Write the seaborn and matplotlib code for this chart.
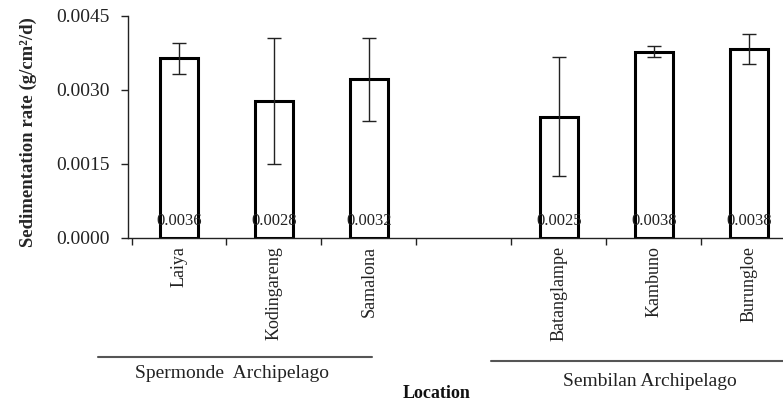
import numpy as np
import pandas as pd
import matplotlib
matplotlib.use("Agg")
import matplotlib.pyplot as plt
from matplotlib.lines import Line2D
import seaborn as sns

# ---- data ----
locations = ["Laiya", "Kodingareng", "Samalona", "Batanglampe", "Kambuno", "Burungloe"]
order = ["Laiya", "Kodingareng", "Samalona", " ", "Batanglampe", "Kambuno", "Burungloe"]
rates = [0.00364, 0.00278, 0.00322, 0.00246, 0.00378, 0.00383]
sd = [0.00031, 0.00128, 0.00084, 0.00121, 0.00012, 0.00030]
value_labels = ["0.0036", "0.0028", "0.0032", "0.0025", "0.0038", "0.0038"]
groups = ["Spermonde  Archipelago", "Sembilan Archipelago"]
yticks = [0.0, 0.0015, 0.0030, 0.0045]

df = pd.DataFrame({"Location": locations, "rate": rates, "sd": sd, "lab": value_labels})

sns.set_style("white")
plt.rcParams["font.family"] = ["Liberation Serif", "DejaVu Serif"]

W, H = 783, 403
fig = plt.figure(figsize=(W / 100, H / 100), dpi=100)
ax = fig.add_axes([128 / W, 1 - 238 / H, (783 - 128) / W, (238 - 16) / H])

sns.barplot(data=df, x="Location", y="rate", order=order, errorbar=None,
            color="white", edgecolor="black", linewidth=2.2, width=0.4, ax=ax)

pos = [order.index(l) for l in locations]
ax.errorbar(pos, df["rate"], yerr=df["sd"], fmt="none", ecolor="#222222",
            elinewidth=1.0, capsize=5, capthick=1.0, zorder=5)

for p, lab in zip(pos, df["lab"]):
    ax.annotate(lab, xy=(p, 0), xytext=(0, 12.5), textcoords="offset points",
                ha="center", va="center", fontsize=12, color="#222222")

ax.set_ylim(0, 0.0045)
ax.set_yticks(yticks)
ax.set_yticklabels([f"{v:.4f}" for v in yticks], fontsize=14, color="#222222")
ax.set_xlim(-0.537, 6.36)

ax.set_xticks(range(len(order)))
ax.set_xticklabels(order, rotation=90, fontsize=13, color="#222222")
ax.tick_params(axis="x", which="major", length=0, pad=6)
ax.set_xticks(np.arange(-0.5, len(order) - 0.5, 1.0), minor=True)
ax.tick_params(axis="x", which="minor", length=5, width=1, color="#222222", direction="out", bottom=True)
ax.tick_params(axis="y", length=5, width=1, color="#222222", direction="out", left=True, pad=8)

for s in ["top", "right"]:
    ax.spines[s].set_visible(False)
for s in ["left", "bottom"]:
    ax.spines[s].set_color("#222222")
    ax.spines[s].set_linewidth(1.0)

ax.set_xlabel("")
ax.set_ylabel("Sedimentation rate (g/cm²/d)", fontsize=13.5, fontweight="bold")
ax.yaxis.set_label_coords(-(128 - 37) / (783 - 128), 0.475)

# group annotations
fig.add_artist(Line2D([98 / W, 372 / W], [1 - 357 / H, 1 - 357 / H], color="#555555", lw=1.5))
fig.add_artist(Line2D([491 / W, 1.0], [1 - 361 / H, 1 - 361 / H], color="#555555", lw=1.5))
fig.text(232 / W, 1 - 373 / H, groups[0], ha="center", va="center", fontsize=14, color="#222222")
fig.text(650 / W, 1 - 382 / H, groups[1], ha="center", va="center", fontsize=14, color="#222222")
fig.text(437 / W, 1 - 393 / H, "Location", ha="center", va="center", fontsize=13,
         fontweight="bold", color="#111111")

fig.savefig("out.png", dpi=100)
